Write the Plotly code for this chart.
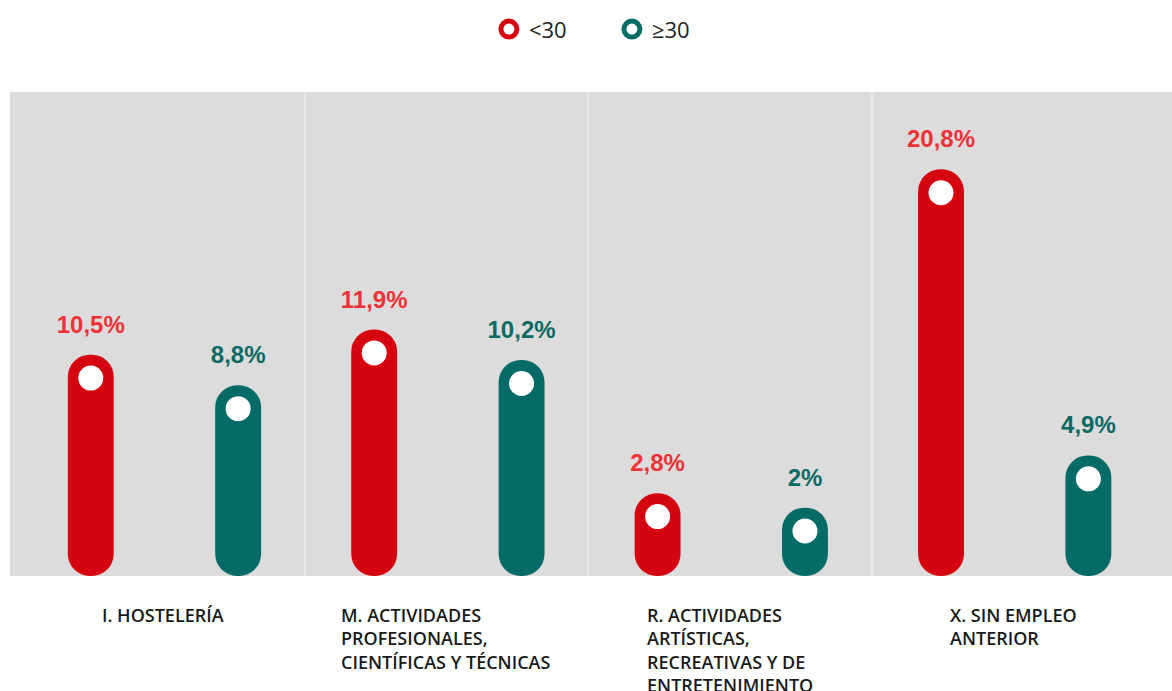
import plotly.graph_objects as go

# data
categories = [
    "I. HOSTELERÍA",
    "M. ACTIVIDADES<br>PROFESIONALES,<br>CIENTÍFICAS Y TÉCNICAS",
    "R. ACTIVIDADES<br>ARTÍSTICAS,<br>RECREATIVAS Y DE<br>ENTRETENIMIENTO",
    "X. SIN EMPLEO<br>ANTERIOR",
]
under_30 = [10.5, 11.9, 2.8, 20.8]
over_30 = [8.8, 10.2, 2.0, 4.9]
series_names = ["<30", "≥30"]

red = "#d40511"
red_txt = "#ec3237"
teal = "#066b66"
teal_txt = "#0b6a63"

y0 = -1.8
y1 = 25.1
dot_drop = 1.3
bw = 0.162

xs = list(range(len(categories)))
fmt = lambda v: f"{v:g}".replace(".", ",") + "%"

fig = go.Figure()

for vals, off, col, tcol, name in [
    (under_30, -0.336, red, red_txt, series_names[0]),
    (over_30, 0.184, teal, teal_txt, series_names[1]),
]:
    xc = [x + off + bw / 2 for x in xs]
    fig.add_bar(
        x=xs,
        y=[v - y0 for v in vals],
        base=y0,
        width=bw,
        offset=off,
        marker=dict(color=col, cornerradius="50%", line=dict(width=0)),
        showlegend=False,
        hoverinfo="skip",
    )
    # value labels, pushed above the bar top by an invisible marker
    fig.add_scatter(
        x=xc,
        y=vals,
        mode="markers+text",
        text=[fmt(v) for v in vals],
        textposition="top center",
        textfont=dict(color=tcol, size=24, family="Liberation Sans", weight=700),
        marker=dict(size=24, opacity=0),
        cliponaxis=False,
        showlegend=False,
        hoverinfo="skip",
    )
    fig.add_scatter(
        x=xc,
        y=[v - dot_drop for v in vals],
        mode="markers",
        name=name,
        marker=dict(size=30, color="white", line=dict(color=col, width=5)),
        hoverinfo="skip",
    )

for x, label in zip(xs, categories):
    fig.add_annotation(
        x=x, y=0, xref="x", yref="paper",
        text=label, showarrow=False,
        xanchor="center", yanchor="top", align="left",
        yshift=-25,
        font=dict(family="Open Sans", size=18, color="#1a1a1a", weight=600),
    )

fig.update_layout(
    width=1172,
    height=691,
    margin=dict(l=10, r=0, t=92, b=115),
    plot_bgcolor="#dcdcdc",
    paper_bgcolor="white",
    barmode="overlay",
    legend=dict(
        orientation="h",
        x=0.518, xanchor="center",
        y=0.988, yref="container", yanchor="top",
        font=dict(family="Open Sans", size=22, color="#222"),
        itemwidth=30,
        entrywidth=78,
    ),
)

fig.update_xaxes(
    range=[-0.54, 3.56],
    showticklabels=False,
    showgrid=False,
    zeroline=False,
    minor=dict(tickvals=[0.5, 1.5, 2.5], showgrid=True, gridcolor="#e9e9e9", gridwidth=2),
)
fig.update_yaxes(range=[y0, y1], showticklabels=False, showgrid=False, zeroline=False)

fig.write_html(
    "out.html",
    config={"displayModeBar": False},
    post_script="document.body.style.margin='0';"
    "Plotly.relayout(document.getElementById('{plot_id}'), {width: 1172, height: 691});",
)
